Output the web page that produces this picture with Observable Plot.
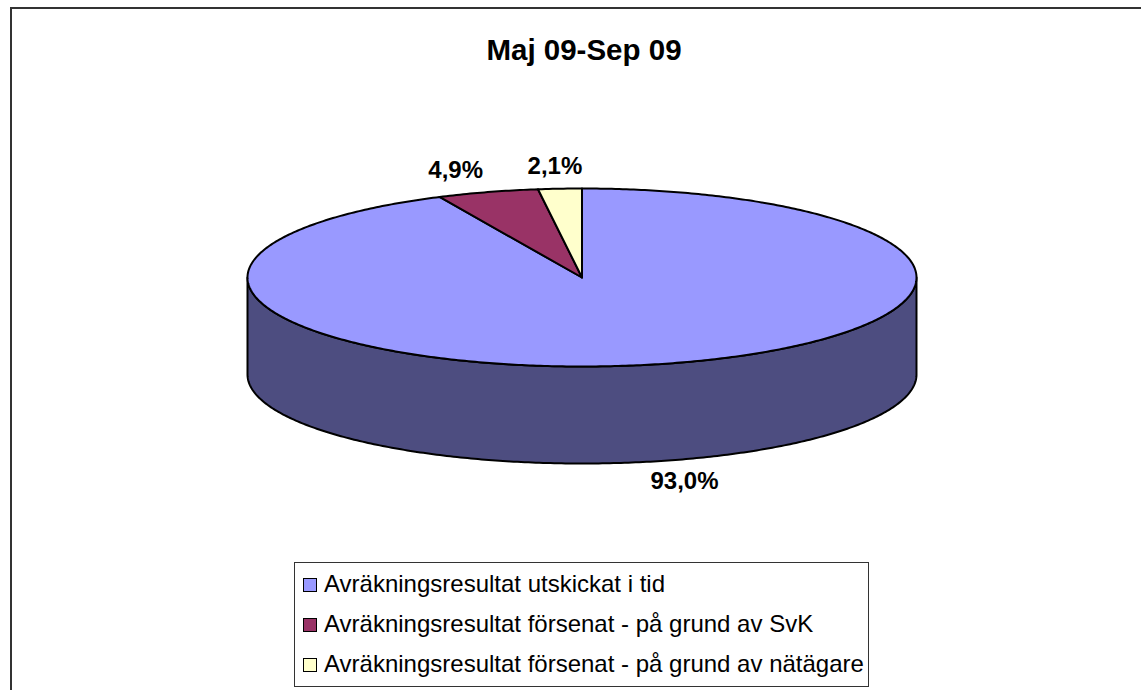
<!DOCTYPE html>
<html><head><meta charset="utf-8">
<script src="https://cdn.jsdelivr.net/npm/d3@7"></script>
<script src="https://cdn.jsdelivr.net/npm/@observablehq/plot@0.6"></script>
<style>
html,body{margin:0;padding:0;background:#fff;overflow:hidden}
#chart{position:relative;width:1141px;height:690px;font-family:"Liberation Sans",Arial,sans-serif;color:#000}
#chart svg{position:absolute;left:0;top:0}
#frame{position:absolute;left:10px;top:7px;width:1131px;height:683px;border-left:2px solid #333;border-top:2px solid #333;box-sizing:border-box}
#title{position:absolute;left:0;width:1168px;top:34px;text-align:center;font-weight:bold;font-size:29.5px;line-height:32px}
#legend{position:absolute;left:294px;top:562px;width:575px;height:125px;box-sizing:border-box;border:1px solid #333;background:#fff}
.row{position:absolute;left:8px;display:flex;align-items:center;font-size:24px;line-height:28px;white-space:nowrap}
.sw{width:12px;height:12px;border:1.5px solid #000;margin-right:7px;margin-top:1px;box-sizing:content-box}
</style></head><body>
<div id="chart"><div id="frame"></div></div>
<script>
const title = "Maj 09-Sep 09";
const categories = ["Avräkningsresultat utskickat i tid","Avräkningsresultat försenat - på grund av SvK","Avräkningsresultat försenat - på grund av nätägare"];
const shares = [93.0, 4.9, 2.1];
const shareLabels = ["93,0%","4,9%","2,1%"];
const colors = ["#9999FF","#993366","#FFFFCC"];
const sideColor = "#4D4D80";
const depth = 97/89; // pie thickness, in units of the vertical radius

const total = d3.sum(shares);
const TAU = 2*Math.PI;
let acc = 0;
const slices = shares.map((v,i)=>{const a0=acc/total*TAU; acc+=v; return {i,a0,a1:acc/total*TAU,mid:(a0+acc/total*TAU)/2};});
const pt = (a,d=0)=>({x:Math.sin(a),y:-Math.cos(a)+d});
const arc = (a0,a1,d=0)=>{const n=Math.max(2,Math.ceil((a1-a0)*90));return d3.range(n+1).map(k=>pt(a0+(a1-a0)*k/n,d));};
const slicePoly = s=>[{x:0,y:0},...arc(s.a0,s.a1),{x:0,y:0}];
const sidePoly = [...arc(Math.PI/2,3*Math.PI/2),...arc(Math.PI/2,3*Math.PI/2,depth).reverse(),pt(Math.PI/2)];

const common={x:"x",y:"y",stroke:"#000",strokeWidth:2,strokeLinejoin:"round",curve:"linear"};
const labelOffsets=[[29.5,20],[-32,-22],[-5,-22]];
const marks=[
  Plot.line(sidePoly,{...common,fill:sideColor}),
  ...slices.map(s=>Plot.line(slicePoly(s),{...common,fill:colors[s.i]})),
  ...slices.map(s=>{
    const p=pt(s.mid,Math.cos(s.mid)<0?depth:0);
    return Plot.text([{...p,label:shareLabels[s.i]}],{x:"x",y:"y",text:"label",dx:labelOffsets[s.i][0],dy:labelOffsets[s.i][1],
      fontWeight:"bold",fontSize:24,fill:"#000",fontFamily:"Liberation Sans, Arial, sans-serif"});
  })
];
const plot=Plot.plot({
  width:1141,height:690,margin:0,
  x:{domain:[-1,1],range:[247,916],axis:null},
  y:{domain:[-1,1],range:[188,366],axis:null},
  style:{background:"transparent"},
  marks
});
const root=document.getElementById("chart");
root.appendChild(plot);
const t=document.createElement("div");t.id="title";t.textContent=title;root.appendChild(t);
const lg=document.createElement("div");lg.id="legend";
categories.forEach((c,i)=>{
  const r=document.createElement("div");r.className="row";r.style.top=(7+i*40)+"px";
  const s=document.createElement("span");s.className="sw";s.style.background=colors[i];
  r.appendChild(s);r.appendChild(document.createTextNode(c));lg.appendChild(r);
});
root.appendChild(lg);
</script></body></html>
